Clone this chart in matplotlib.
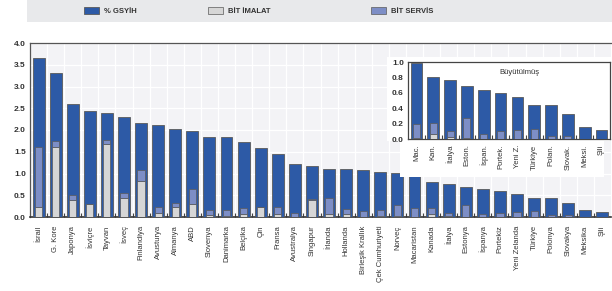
import matplotlib
matplotlib.use("Agg")
import matplotlib.pyplot as plt
from matplotlib.patches import Rectangle
import numpy as np

plt.rcParams['font.family'] = ['Liberation Sans Narrow', 'Liberation Sans', 'DejaVu Sans']

countries = ['İsrail', 'G. Kore', 'Japonya', 'İsviçre', 'Tayvan', 'İsveç', 'Finlandiya',
             'Avusturya', 'Almanya', 'ABD', 'Slovenya', 'Danimarka', 'Belçika', 'Çin',
             'Fransa', 'Avustralya', 'Singapur', 'İrlanda', 'Hollanda', 'Birleşik Krallık',
             'Çek Cumhuriyeti', 'Norveç', 'Macaristan', 'Kanada', 'İtalya', 'Estonya',
             'İspanya', 'Portekiz', 'Yeni Zelanda', 'Türkiye', 'Polonya', 'Slovakya',
             'Meksika', 'Şili']
gsyih = [3.65, 3.31, 2.60, 2.44, 2.38, 2.29, 2.15, 2.11, 2.03, 1.97, 1.85, 1.84, 1.72,
         1.58, 1.45, 1.22, 1.17, 1.11, 1.11, 1.08, 1.04, 1.02, 0.99, 0.81, 0.77, 0.69,
         0.64, 0.60, 0.54, 0.44, 0.44, 0.32, 0.16, 0.12]
bit_imalat = [0.22, 1.60, 0.38, 0.31, 1.67, 0.43, 0.82, 0.09, 0.22, 0.30, 0.04, 0.02,
              0.06, 0.23, 0.06, 0.01, 0.38, 0.07, 0.07, 0.01, 0.02, 0.02, 0.01, 0.06,
              0.02, 0.01, 0.0, 0.0, 0.0, 0.0, 0.0, 0.0, 0.0, 0.0]
bit_servis = [1.38, 0.14, 0.12, 0.0, 0.11, 0.13, 0.26, 0.14, 0.10, 0.35, 0.13, 0.15,
              0.14, 0.0, 0.17, 0.09, 0.03, 0.36, 0.12, 0.12, 0.13, 0.25, 0.19, 0.15,
              0.08, 0.26, 0.06, 0.10, 0.12, 0.13, 0.04, 0.04, 0.0, 0.0]
inset_labels = ['Mac.', 'Kan.', 'İtalya', 'Eston.', 'İspan.', 'Portek.', 'Yeni Z.',
                'Türkiye', 'Polan.', 'Slovak.', 'Meksi.', 'Şili']
yticks_main = [0.0, 0.5, 1.0, 1.5, 2.0, 2.5, 3.0, 3.5, 4.0]
yticks_inset = [0.0, 0.2, 0.4, 0.6, 0.8, 1.0]

C_BLUE = '#2d5aa6'
C_IMALAT = '#d6d6d6'
C_SERVIS = '#7d8ec6'
C_EDGE = '#5a5a5a'
C_TXT = '#333333'

W, H = 612, 291
fig = plt.figure(figsize=(W / 100, H / 100), dpi=100)
fig.patch.set_facecolor('white')

def fx(px):
    return px / W

def fy(py):
    return 1 - py / H

# legend band
fig.patches.append(Rectangle((fx(27), fy(22)), 1 - fx(27), 22 / H, transform=fig.transFigure,
                             facecolor='#e8e9eb', edgecolor='none', zorder=0))

def draw_bars(ax, n, tot, ima, ser):
    x = np.arange(n)
    b1 = ax.bar(x, tot, width=0.7, color=C_BLUE, edgecolor=C_EDGE, linewidth=0.6, zorder=3)
    b2 = ax.bar(x, ima, width=0.42, color=C_IMALAT, edgecolor=C_EDGE, linewidth=0.5, zorder=4)
    b3 = ax.bar(x, ser, width=0.42, bottom=ima, color=C_SERVIS, edgecolor=C_EDGE,
                linewidth=0.5, zorder=4)
    return b1, b2, b3

# main axes
ax = fig.add_axes([fx(30), fy(217), fx(611) - fx(30), (217 - 43) / H])
n = len(countries)
b1, b2, b3 = draw_bars(ax, n, gsyih, bit_imalat, bit_servis)
ax.set_facecolor('#f3f3f6')
ax.set_xlim(-0.5, n - 0.5)
ax.set_ylim(0, 4.0)
ax.set_yticks(yticks_main)
ax.set_yticklabels([f'{v:.1f}' for v in yticks_main], fontsize=6, color=C_TXT, fontweight='bold')
ax.set_xticks(np.arange(n))
ax.set_xticklabels(countries, rotation=90, fontsize=5.5, color=C_TXT, va='top', ha='center')
ax.tick_params(axis='x', length=0, pad=6)
ax.tick_params(axis='y', length=0, pad=3)
ax.set_xticks(np.arange(n - 1) + 0.5, minor=True)
ax.tick_params(axis='x', which='minor', direction='in', length=3, width=0.8, color='#444444')
ax.grid(axis='y', color='white', linewidth=0.9, zorder=1)
ax.grid(axis='x', which='minor', color='white', linewidth=0.9, zorder=1)
ax.set_axisbelow(True)
for s in ['left', 'top']:
    ax.spines[s].set_color('#555555')
    ax.spines[s].set_linewidth(0.9)
ax.spines['right'].set_visible(False)
ax.spines['bottom'].set_color('#333333')
ax.spines['bottom'].set_linewidth(1.2)

# white box behind inset
fig.patches.append(Rectangle((fx(387), fy(141)), 1 - fx(387), (141 - 57) / H,
                             transform=fig.transFigure, facecolor='white', edgecolor='none', zorder=5))
fig.patches.append(Rectangle((fx(400), fy(177)), fx(604) - fx(400), (177 - 140) / H,
                             transform=fig.transFigure, facecolor='white', edgecolor='none', zorder=5))

# inset
k = len(inset_labels)
axi = fig.add_axes([fx(408), fy(139), fx(610) - fx(408), (139 - 62) / H], zorder=6)
draw_bars(axi, k, gsyih[-k:], bit_imalat[-k:], bit_servis[-k:])
axi.set_facecolor('white')
axi.set_xlim(-0.5, k - 0.5)
axi.set_ylim(0, 1.0)
axi.set_yticks(yticks_inset)
axi.set_yticklabels([f'{v:.1f}' for v in yticks_inset], fontsize=6, color=C_TXT, fontweight='bold')
axi.set_xticks(np.arange(k))
axi.set_xticklabels(inset_labels, rotation=90, fontsize=5.5, color=C_TXT, va='top', ha='center')
axi.tick_params(axis='x', length=0, pad=4)
axi.tick_params(axis='y', length=0, pad=3)
axi.set_xticks(np.arange(k - 1) + 0.5, minor=True)
axi.tick_params(axis='x', which='minor', direction='in', length=3, width=0.8, color='#444444')
for s in axi.spines.values():
    s.set_color('#444444')
    s.set_linewidth(0.9)
axi.text(0.55, 0.86, 'Büyütülmüş', transform=axi.transAxes, fontsize=5.5, color=C_TXT,
         ha='center', va='center')

# legends
leg_items = [(b1, '% GSYİH', 86), (b2, 'BİT İMALAT', 210), (b3, 'BİT SERVİS', 373)]
for h, lab, px in leg_items:
    lg = fig.legend([h], [lab], loc='center left', bbox_to_anchor=(fx(px) - 0.012, fy(11)),
                    frameon=False, fontsize=5.5, handlelength=2.0, handleheight=1.0,
                    handletextpad=0.6, borderpad=0.2)
    for t in lg.get_texts():
        t.set_color(C_TXT)
        t.set_fontweight('bold')

fig.savefig('out.png', dpi=100)
